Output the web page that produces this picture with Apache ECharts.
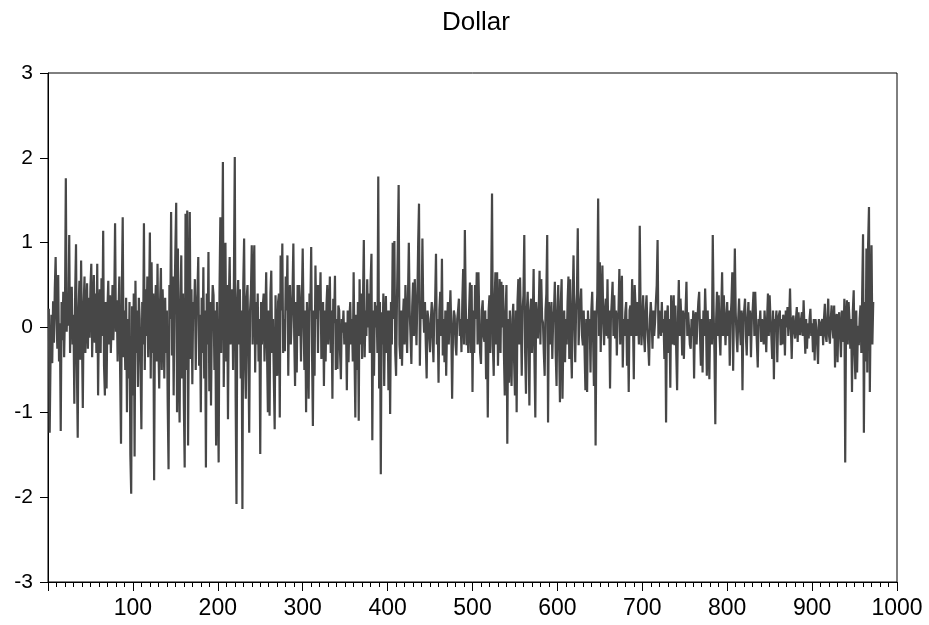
<!DOCTYPE html>
<html>
<head>
<meta charset="utf-8">
<script src="https://cdn.jsdelivr.net/npm/echarts@6/dist/echarts.min.js"></script>
<style>html,body{margin:0;padding:0;background:#fff}#c{width:929px;height:625px}</style>
</head>
<body>
<div id="c"></div>
<script>
const titleText = "Dollar";
const xTickLabels = [100,200,300,400,500,600,700,800,900,1000];
const yTickLabels = [-3,-2,-1,0,1,2,3];

const seg001 = [
0.22,-1.24,-0.35,0.15,-0.42,0.31,-0.18,0.45,0.83,0.12,
-0.25,0.62,-0.4,0.05,-1.22,0.3,-0.15,0.42,-0.35,0.18,
1.76,-0.05,0.35,0.02,1.09,-0.3,0.25,0.48,-0.2,0.15,
-0.9,0.4,0.98,-0.45,-1.3,0.2,0.55,-0.38,0.79,-0.1,
-0.95,0.25,0.6,-0.3,0.1,0.52,-0.25,0.35,-0.12,0.48,
0.75,-0.35,0.2,0.62,-0.18,0.4,-0.3,0.75,-0.8,0.15,
0.45,-0.3,0.58,-0.1,1.14,-0.45,-0.8,0.3,-0.72,0.2,
0.55,-0.2,0.38,-0.3,0.1,0.5,-0.15,0.25,1.23,-0.05,
0.32,-0.4,0.15,0.6,-0.55,-1.37,0.45,1.3,-0.35,0.2,
-0.5,0.35,-1.0,0.1,-0.6,0.3,-1.5,-1.96,0.25,-0.8];
const seg101 = [
0.4,-1.52,0.55,-0.3,0.2,-0.7,0.35,0.1,-0.45,-1.2,
0.3,-0.2,1.23,-0.5,0.45,-0.1,0.6,-0.35,0.2,1.12,
-0.6,0.77,-0.3,0.4,-1.8,0.15,0.5,-0.4,0.75,-0.2,
-0.72,0.3,0.7,-0.5,0.45,0.05,-0.6,0.35,-0.3,0.2,
-0.9,-1.67,0.5,0.1,1.36,-0.33,0.6,-0.8,0.25,0.9,
1.47,-1.0,0.93,-0.4,-1.12,0.3,0.85,-0.6,0.4,-0.9,
-1.65,1.34,-0.5,1.38,-1.39,0.2,1.36,-0.37,0.45,-0.67,
0.3,0.1,0.57,-0.5,0.2,0.4,0.83,-0.45,0.15,-1.0,
0.35,-0.3,0.71,-0.6,0.2,-1.65,0.4,-0.2,0.89,-0.75,
0.3,-0.92,0.1,0.5,0.38,-0.5,0.2,-1.39,0.3,-0.6];
const seg201 = [
-1.59,0.4,1.3,-0.3,0.6,1.95,-0.7,0.3,1.0,-0.4,
0.5,-1.08,0.3,0.83,-0.2,0.05,0.45,-0.5,0.6,2.01,
-0.8,-2.08,0.3,0.56,-0.2,0.45,-0.6,0.2,-2.14,0.5,
1.05,-0.4,-0.84,0.35,0.5,-0.3,-1.24,0.2,0.4,0.97,
-0.2,0.6,0.97,-0.53,0.3,-0.2,0.4,-0.4,0.1,-1.49,
0.3,-0.2,0.25,0.4,-0.4,0.1,0.65,-0.3,-1.0,0.2,
-1.04,0.4,0.67,-0.3,0.1,-0.6,-1.2,0.38,-0.2,-0.57,
0.3,0.4,-1.06,0.85,0.2,0.99,-0.3,0.1,-0.28,0.6,
0.2,0.85,-0.57,0.35,0.5,-0.2,0.1,0.4,0.99,-0.1,
-0.69,0.3,-0.53,0.5,-0.1,0.5,0.2,-0.4,0.3,0.93];
const seg301 = [
0.1,-0.5,0.2,-1.0,0.3,-0.1,-0.84,0.4,0.2,0.95,
-0.3,-1.16,0.2,-0.57,0.73,0.1,0.5,-0.3,0.5,0.2,
0.65,-0.37,0.1,0.3,-0.69,0.2,-0.4,0.26,0.5,-0.2,
0.1,0.6,-0.3,0.2,-0.84,0.34,0.05,0.61,-0.5,0.1,
-0.49,0.26,0.2,-0.3,-0.61,0.1,-0.06,0.2,-0.2,-0.22,
0.06,-0.74,0.2,-0.41,0.1,0.3,-0.2,0.1,-0.4,0.65,
-0.3,-1.06,0.15,-0.5,0.3,-1.1,0.57,-0.2,0.4,-0.37,
0.3,1.03,-0.35,0.2,-0.1,0.57,0.0,0.4,-0.3,0.55,
0.87,-1.33,0.2,-0.57,0.3,0.0,0.26,-0.3,1.78,-0.72,
0.3,-1.73,0.18,-0.2,0.4,-0.69,0.1,0.37,-0.3,0.2];
const seg401 = [
-0.74,0.2,-1.02,0.3,-0.2,1.0,0.1,1.02,-0.3,-0.57,
0.3,0.95,1.68,-0.2,-0.37,0.2,-0.45,0.1,0.34,-0.2,
0.5,0.1,-0.3,-0.29,1.0,0.2,-0.1,-0.43,0.25,0.53,
-0.1,0.57,0.2,-0.21,0.3,0.99,1.46,-0.45,0.3,0.1,
1.05,0.2,-0.06,0.3,-0.2,-0.6,0.2,0.1,-0.1,-0.29,
0.1,0.3,-0.1,-0.41,0.2,0.3,0.87,-0.2,0.1,-0.65,
0.2,0.42,-0.1,0.81,-0.33,0.1,-0.41,0.2,-0.57,0.0,
0.3,-0.2,0.1,0.44,0.0,-0.84,-0.1,0.2,0.14,-0.2,
-0.33,0.1,0.2,0.34,-0.1,0.1,-0.29,0.3,0.69,-0.2,
1.15,0.3,-0.21,0.1,-0.3,0.2,0.53,-0.3,0.5,-0.76];
const seg501 = [
0.2,-0.3,0.5,0.1,0.65,-0.2,0.65,0.1,-0.3,-0.43,
0.2,0.32,-0.1,-0.17,0.2,-0.61,0.1,-1.06,0.2,0.38,
-0.3,0.4,1.58,-0.2,-0.57,0.3,0.65,-0.2,0.65,-0.45,
0.1,0.57,-0.3,0.54,0.0,0.5,-0.3,-0.8,0.2,0.5,
-1.37,0.1,-0.65,0.2,-0.3,-0.69,0.1,0.28,-0.4,-0.8,
0.2,-1.0,0.3,0.57,-0.2,0.59,0.1,-0.57,0.2,0.38,
1.09,-0.3,-0.78,0.2,0.42,-0.1,-0.92,0.2,0.34,-0.3,
0.1,0.69,-0.4,-1.06,0.3,0.1,-0.13,0.2,0.67,-0.2,
0.57,0.1,0.06,-0.3,-0.57,0.2,0.4,1.09,-1.12,0.3,
0.1,-0.2,0.3,-0.37,0.1,0.2,0.54,-0.3,-0.69,0.2];
const seg601 = [
0.5,-0.2,-0.88,0.3,0.57,-0.84,-0.13,0.2,-0.41,0.1,
-0.2,0.3,0.6,-0.37,0.57,-0.2,-0.6,0.3,0.85,0.1,
-0.41,0.2,0.4,1.17,-0.21,0.1,0.3,0.46,-0.1,-0.21,
0.2,0.18,-0.74,0.1,-0.76,0.2,-0.06,0.1,-0.53,0.2,
0.42,-0.1,-0.69,0.2,-1.39,0.1,0.4,1.52,-0.1,0.77,
-0.29,0.3,0.73,0.1,-0.21,0.2,0.34,-0.1,0.57,-0.13,
0.2,-0.72,0.1,0.3,0.54,-0.1,0.38,-0.13,0.2,-0.33,
0.1,0.2,0.69,-0.2,0.3,0.61,-0.47,0.1,-0.1,0.18,
0.3,-0.45,0.1,-0.76,0.2,0.26,-0.1,0.57,0.1,-0.61,
0.5,0.26,-0.1,0.3,0.1,-0.2,1.2,0.2,-0.21,0.1];
const seg701 = [
0.38,-0.1,-0.29,0.2,0.38,0.0,-0.2,-0.45,0.1,0.3,
0.1,-0.25,0.2,-0.1,0.06,0.3,0.5,1.03,-0.13,0.2,
0.18,-0.1,0.3,-0.06,0.1,-0.37,0.2,-1.12,0.1,0.26,
-0.3,0.1,-0.71,0.38,0.1,-0.2,0.38,-0.21,0.26,-0.3,
-0.74,0.1,0.56,-0.1,0.34,0.1,-0.33,0.2,-0.37,0.1,
0.2,0.54,-0.1,0.18,0.0,-0.2,-0.25,0.1,-0.1,0.2,
-0.6,0.1,0.18,-0.2,0.1,0.3,0.42,-0.1,-0.45,0.1,
-0.53,0.2,-0.1,0.46,0.1,-0.57,0.2,-0.2,-0.61,0.1,
0.1,-0.2,1.09,0.2,-0.3,-1.14,0.1,0.42,-0.1,0.38,
-0.1,-0.33,0.2,0.65,-0.1,0.38,0.1,-0.21,0.1,0.3];
const seg801 = [
-0.1,0.2,-0.45,0.1,0.3,0.65,-0.51,0.2,0.93,0.18,
-0.1,-0.29,0.1,0.34,0.0,-0.21,0.2,-0.74,0.1,0.2,
0.34,-0.1,-0.33,0.1,0.3,-0.1,0.2,-0.35,0.1,0.2,
0.42,-0.1,0.42,0.1,-0.2,-0.47,0.1,0.02,0.2,-0.17,
0.1,0.1,-0.2,0.2,0.0,-0.29,0.1,0.4,-0.1,0.38,
0.1,-0.1,-0.37,0.2,-0.61,0.1,0.06,0.2,-0.41,0.1,
0.1,0.2,-0.21,0.1,-0.2,0.15,0.1,-0.33,0.2,0.0,
0.24,-0.1,0.1,0.46,0.0,-0.37,0.1,0.14,-0.05,-0.13,
0.1,0.24,-0.17,0.18,0.0,-0.09,0.1,0.18,-0.1,0.32,
0.0,-0.31,0.1,-0.25,0.05,-0.13,0.1,0.22,-0.1,0.05];
const seg901 = [
-0.29,0.1,-0.39,0.1,0.0,-0.2,-0.43,0.1,0.02,-0.1,
0.06,0.1,-0.21,0.1,0.28,-0.1,-0.17,0.1,0.34,-0.1,
-0.19,0.1,0.26,0.0,-0.13,0.26,-0.47,0.1,0.16,-0.41,
0.1,0.18,-0.1,-0.35,0.2,0.1,-0.17,0.34,-1.59,0.1,
0.32,-0.2,0.30,0.1,-0.25,0.1,-0.76,0.2,0.44,-0.3,
-0.61,0.2,-0.53,0.02,-0.21,0.1,0.26,-0.3,0.4,1.1,
-1.24,0.3,-0.4,0.93,-0.53,0.99,1.42,-0.76,0.2,0.97,
-0.2,0.3];

const values = [].concat(seg001, seg101, seg201, seg301, seg401, seg501, seg601, seg701, seg801, seg901);
const seriesData = values.map((v, i) => [i + 1, v]);

const labelFont = "'Liberation Sans', Arial, sans-serif";
const chart = echarts.init(document.getElementById('c'), null, {renderer: 'canvas'});
chart.setOption({
  animation: false,
  backgroundColor: '#ffffff',
  title: {
    text: titleText, left: 437, top: 5,
    textStyle: {fontFamily: labelFont, fontSize: 26, fontWeight: 'normal', color: '#000'}
  },
  grid: {left: 48, right: 32, top: 73, bottom: 43, show: true, borderColor: '#000', borderWidth: 1, backgroundColor: '#fff'},
  xAxis: {
    type: 'value', min: 0, max: 1000, interval: 100,
    axisLine: {show: true, onZero: false, lineStyle: {color: '#000', width: 1}},
    axisTick: {show: true, inside: false, length: 9, lineStyle: {color: '#000'}},
    minorTick: {show: true, splitNumber: 10, length: 5, lineStyle: {color: '#000'}},
    splitLine: {show: false},
    axisLabel: {
      margin: 15, color: '#000', fontSize: 23, fontFamily: labelFont,
      formatter: v => (xTickLabels.indexOf(v) >= 0 ? String(v) : '')
    }
  },
  yAxis: {
    type: 'value', min: -3, max: 3, interval: 1,
    axisLine: {show: true, onZero: false, lineStyle: {color: '#000', width: 1}},
    axisTick: {show: true, inside: false, length: 8, lineStyle: {color: '#000'}},
    splitLine: {show: false},
    axisLabel: {
      margin: 15, color: '#000', fontSize: 21, fontFamily: labelFont,
      formatter: v => (yTickLabels.indexOf(v) >= 0 ? String(v) : '')
    }
  },
  series: [{
    type: 'line', data: seriesData, showSymbol: false, sampling: null,
    lineStyle: {color: '#474747', width: 2.2}, silent: true
  }]
});
</script>
</body>
</html>
